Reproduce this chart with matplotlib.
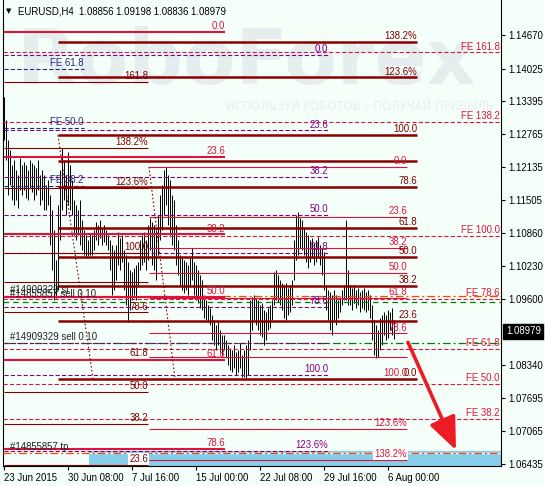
import matplotlib
matplotlib.use('Agg')
import matplotlib.pyplot as plt
from matplotlib.patches import Rectangle, FancyArrowPatch
from matplotlib.transforms import blended_transform_factory

plt.rcParams['font.family'] = ['Liberation Sans', 'DejaVu Sans']
plt.rcParams['lines.scale_dashes'] = False

# ---------------- data ----------------
symbol_title = "EURUSD,H4  1.08856 1.09198 1.08836 1.08979"

highs = [1.1348, 1.1304, 1.1265, 1.1246, 1.1218, 1.1227, 1.1208, 1.1198, 1.1231, 1.1218,
         1.1223, 1.1218, 1.1208, 1.1227, 1.1221, 1.1218, 1.1212, 1.1227, 1.1198, 1.1208,
         1.1198, 1.1179, 1.1189, 1.1160, 1.1131, 1.1093, 1.1035, 1.1141, 1.1208, 1.1250,
         1.1227, 1.1198, 1.1242, 1.1218, 1.1189, 1.1150, 1.1141, 1.1131, 1.1150, 1.1112,
         1.1093, 1.1083, 1.1073, 1.1087, 1.1083, 1.1093, 1.1108, 1.1102, 1.1112, 1.1097,
         1.1102, 1.1093, 1.1083, 1.1073, 1.1064, 1.1054, 1.1064, 1.1089, 1.1077, 1.1083,
         1.1054, 1.1045, 1.1031, 1.1016, 1.1012, 1.1020, 1.1025, 1.1031, 1.1073, 1.1083,
         1.1089, 1.1073, 1.1102, 1.1116, 1.1108, 1.1102, 1.1093, 1.1122, 1.1160, 1.1179,
         1.1208, 1.1214, 1.1198, 1.1189, 1.1160, 1.1150, 1.1102, 1.1073, 1.1045, 1.1039,
         1.1035, 1.1031, 1.1025, 1.1039, 1.1058, 1.1031, 1.1025, 1.1016, 1.1006, 1.0997,
         1.0968, 1.0958, 1.0949, 1.0943, 1.0929, 1.0920, 1.0910, 1.0916, 1.0901, 1.0891,
         1.0891, 1.0881, 1.0872, 1.0866, 1.0862, 1.0872, 1.0858, 1.0862, 1.0876, 1.0853,
         1.0862, 1.0872, 1.0881, 1.0958, 1.0964, 1.0968, 1.0962, 1.0958, 1.0949, 1.0952,
         1.0939, 1.0935, 1.0943, 1.0949, 1.0958, 1.1012, 1.1016, 1.1006, 1.0997, 1.0991,
         1.0987, 1.0991, 1.0981, 1.0987, 1.0997, 1.1073, 1.1122, 1.1127, 1.1116, 1.1112,
         1.1097, 1.1089, 1.1083, 1.1073, 1.1077, 1.1068, 1.1073, 1.1079, 1.1064, 1.1058,
         1.1050, 1.0987, 1.0977, 1.0973, 1.0968, 1.0977, 1.0968, 1.0958, 1.0964, 1.0977,
         1.0987, 1.1112, 1.1016, 1.0987, 1.0981, 1.0987, 1.0977, 1.0981, 1.0973, 1.0977,
         1.0981, 1.0973, 1.0977, 1.0968, 1.0949, 1.0920, 1.0910, 1.0901, 1.0923, 1.0929,
         1.0935, 1.0929, 1.0939, 1.0935, 1.0943, 1.09198]

lows = [1.1265, 1.1227, 1.1160, 1.1179, 1.1150, 1.1141, 1.1150, 1.1135, 1.1169, 1.1160,
        1.1169, 1.1154, 1.1150, 1.1173, 1.1166, 1.1150, 1.1160, 1.1169, 1.1141, 1.1150,
        1.1131, 1.1131, 1.1141, 1.1064, 1.1016, 1.0958, 1.0962, 1.0977, 1.1073, 1.1131,
        1.1150, 1.1122, 1.1141, 1.1131, 1.1122, 1.1083, 1.1073, 1.1083, 1.1064, 1.1054,
        1.1045, 1.1039, 1.1043, 1.1045, 1.1045, 1.1054, 1.1073, 1.1064, 1.1077, 1.1064,
        1.1070, 1.1064, 1.1054, 1.1016, 1.0968, 1.0977, 1.0997, 1.1025, 1.1016, 1.1031,
        1.0977, 1.0949, 1.0916, 1.0939, 1.0958, 1.0968, 1.0958, 1.0987, 1.1016, 1.1025,
        1.1031, 1.1016, 1.1035, 1.1054, 1.1025, 1.1016, 1.0997, 1.1045, 1.1073, 1.1093,
        1.1122, 1.1141, 1.1102, 1.1083, 1.1064, 1.1054, 1.1025, 1.1006, 1.0987, 1.0977,
        1.0972, 1.0977, 1.0968, 1.0987, 1.0997, 1.0968, 1.0958, 1.0952, 1.0943, 1.0939,
        1.0923, 1.0920, 1.0916, 1.0910, 1.0881, 1.0872, 1.0862, 1.0872, 1.0858, 1.0853,
        1.0862, 1.0847, 1.0833, 1.0824, 1.0820, 1.0828, 1.0814, 1.0820, 1.0828, 1.0810,
        1.0810, 1.0808, 1.0814, 1.0862, 1.0901, 1.0920, 1.0910, 1.0901, 1.0891, 1.0887,
        1.0872, 1.0881, 1.0901, 1.0904, 1.0920, 1.0949, 1.0958, 1.0954, 1.0949, 1.0939,
        1.0923, 1.0920, 1.0929, 1.0935, 1.0949, 1.0997, 1.1035, 1.1045, 1.1058, 1.1054,
        1.1045, 1.1031, 1.1019, 1.1031, 1.1039, 1.1025, 1.1031, 1.1039, 1.1025, 1.1006,
        1.0977, 1.0939, 1.0920, 1.0901, 1.0891, 1.0920, 1.0910, 1.0923, 1.0935, 1.0949,
        1.0958, 1.0958, 1.0949, 1.0949, 1.0939, 1.0952, 1.0943, 1.0949, 1.0935, 1.0943,
        1.0939, 1.0935, 1.0939, 1.0923, 1.0881, 1.0853, 1.0847, 1.0849, 1.0862, 1.0872,
        1.0891, 1.0881, 1.0885, 1.0901, 1.0891, 1.08836]

last_price = 1.08979

date_tick_bars = [0, 32, 64, 96, 128, 160, 192]
date_tick_labels = ["23 Jun 2015", "30 Jun 08:00", "7 Jul 16:00", "15 Jul 00:00",
                    "22 Jul 08:00", "29 Jul 16:00", "6 Aug 00:00"]
price_ticks = [1.14670, 1.14025, 1.13395, 1.12765, 1.12135, 1.11505, 1.10860,
               1.10230, 1.09600, 1.08340, 1.07695, 1.07065, 1.06435]

# Fibonacci objects: bar span, price at 0 %, price at 100 %, levels, labels
fib_levels = [0.0, 23.6, 38.2, 50.0, 61.8, 78.6, 89.5, 100.0, 123.6, 138.2]
fib_labels = ["0.0", "23.6", "38.2", "50.0", "61.8", "78.6", "", "100.0", "123.6%", "138.2%"]

fibA_span = (27.0, 206.5); fibA_p0 = 1.0807; fibA_p100 = 1.1275
fibB_span = (72.5, 201.5); fibB_p0 = 1.1214; fibB_p100 = 1.0807
fibA_trend = [(27.0, 1.1275), (44.5, 1.0807)]
fibB_trend = [(72.5, 1.1214), (85.5, 1.0807)]

fibC_span = (0.0, 72.0); fibC_p0 = 1.0517; fibC_p100 = 1.1048
fibC_levels = [23.6, 38.2, 50.0, 61.8, 78.6, 89.5, 100.0, 123.6, 138.2, 161.8]
fibC_labels = ["23.6", "38.2", "50.0", "61.8", "78.6", "", "100.0", "123.6%", "138.2%", "161.8"]

fibD_span = (0.0, 110.5); fibD_p0 = 1.1473; fibD_p100 = 1.0455
fibD_levels = [0.0, 23.6, 38.2, 50.0, 61.8, 78.6]
fibD_labels = ["0.0", "23.6", "38.2", "50.0", "61.8", "78.6"]

fibP_span = (0.0, 162.0); fibP_p0 = 1.1429; fibP_p100 = 1.0814
fibP_levels = [0.0, 23.6, 38.2, 50.0, 61.8, 78.6, 90.0, 100.0, 123.6]
fibP_labels = ["0.0", "23.6", "38.2", "50.0", "61.8", "78.6", "", "100.0", "123.6%"]

fe_levels = [38.2, 50.0, 61.8, 78.6, 100.0, 138.2, 161.8]
fe_p0 = 1.0513; fe_p100 = 1.1082

feN_span = (0.0, 40.0); feN_p0 = 1.0813; feN_p100 = 1.1765
feN_levels = [38.2, 50.0, 61.8]

sl_price = 1.0966
open2_price = 1.0954
sell_price = 1.0876
tp_price = 1.0664
zone_top = 1.0668
zone_bottom = 1.0600
zone_start = 42.5

arrow_start = (202.0, 1.0877)
arrow_end = (226.0, 1.0670)

# ---------------- figure ----------------
W, H = 545, 486
BG = '#f5fffa'
fig = plt.figure(figsize=(W / 100, H / 100), dpi=100, facecolor=BG)
ax = fig.add_axes([3 / W, 1 - 466 / H, 498 / W, 466 / H])
ax.set_facecolor(BG)
ax.set_xlim(-0.5, 248.5)
ax.set_ylim(1.06395, 1.15342)

MAROON = '#800000'
DARKRED = '#8b0000'
CRIMSON = '#dc143c'
PURPLE = '#800080'
NAVY = '#262680'
DASH = (0, (3.0, 1.6))
DASHDOT = (0, (5.5, 2.2, 1.4, 2.2))
DOT = (0, (1.2, 1.6))
FS = 6.9

# watermark (behind everything in the chart)
ax.text(17 / W, 1 - 84 / H, "RoboForex", fontsize=55, fontweight='bold',
        color='#e5edee', family='DejaVu Sans', ha='left', va='baseline',
        transform=fig.transFigure, zorder=0.1, clip_on=False)
ax.text(494 / W, 1 - 107 / H, "ИСПОЛЬЗУЙ РОБОТОВ – ПОЛУЧАЙ ПРИБЫЛЬ", fontsize=8.3,
        color='#e6eeef', family='DejaVu Sans', ha='right', va='center',
        transform=fig.transFigure, zorder=0.1, clip_on=False)

# zone rectangle (background object)
ax.add_patch(Rectangle((zone_start, zone_bottom), 400, zone_top - zone_bottom,
                       facecolor='#87ceeb', edgecolor='none', zorder=1))

# price bars
xs = list(range(len(highs)))
ax.vlines(xs, lows, highs, color='black', lw=0.7, zorder=2)


def lab(x, y, text, color, bg=None):
    kw = {}
    if bg:
        kw['bbox'] = dict(boxstyle='square,pad=0.1', fc=bg, ec='none')
    ax.annotate(text, xy=(x, y), xytext=(0, 0.6), textcoords='offset points',
                ha='right', va='bottom', fontsize=FS, color=color, zorder=6, **kw)


def fib(span, p0, p100, levels, labels, color, lw, ls, lcolor):
    for lv, lb in zip(levels, labels):
        p = p0 + (p100 - p0) * lv / 100.0
        ax.plot(span, [p, p], color=color, lw=lw, ls=ls, zorder=3, solid_capstyle='butt')
        if lb:
            bg = 'white' if zone_bottom < p < zone_top + 0.0004 else None
            lab(span[1], p, lb, lcolor, bg)


# order lines (full width)
full = (-0.5, 248.5)
ax.plot(full, [open2_price] * 2, color='#008000', lw=0.9, ls=(0, (4, 3)), zorder=3)
ax.plot(full, [sell_price] * 2, color='#008000', lw=0.9, ls=DASHDOT, zorder=3)
ax.plot(full, [sl_price] * 2, color='#ff4500', lw=0.9, ls=DASHDOT, zorder=3)
ax.plot((zone_start, 248.5), [tp_price] * 2, color='white', lw=0.9, zorder=2.5)
ax.plot(full, [tp_price] * 2, color='#ff4500', lw=0.9, ls=DASHDOT, zorder=3)

# crimson FE (full width)
for lv in fe_levels:
    p = fe_p0 + (fe_p100 - fe_p0) * lv / 100.0
    ax.plot(full, [p, p], color=CRIMSON, lw=0.8, ls=DASH, zorder=3)
    lab(248.0, p, "FE %.1f" % lv, CRIMSON)

# navy FE
for lv in feN_levels:
    p = feN_p0 + (feN_p100 - feN_p0) * lv / 100.0
    ax.plot(feN_span, [p, p], color=NAVY, lw=0.8, ls=DASH, zorder=3)
    lab(feN_span[1], p, "FE %.1f" % lv, NAVY)

fib(fibP_span, fibP_p0, fibP_p100, fibP_levels, fibP_labels, PURPLE, 0.8, DASH, PURPLE)
fib(fibC_span, fibC_p0, fibC_p100, fibC_levels, fibC_labels, MAROON, 0.8, '-', MAROON)
fib(fibD_span, fibD_p0, fibD_p100, fibD_levels, fibD_labels, CRIMSON, 1.5, '-', CRIMSON)
fib(fibB_span, fibB_p0, fibB_p100, fib_levels, fib_labels, CRIMSON, 0.8, '-', CRIMSON)
fib(fibA_span, fibA_p0, fibA_p100, fib_levels, fib_labels, DARKRED, 1.8, '-', MAROON)

for tr in (fibA_trend, fibB_trend):
    ax.plot([tr[0][0], tr[1][0]], [tr[0][1], tr[1][1]], color=DARKRED, lw=0.8,
            ls=DOT, zorder=3)

# order labels
ax.annotate("#14855857 sell 0.10", xy=(3, open2_price), xytext=(0, 2.5),
            textcoords='offset points', ha='left', va='bottom', fontsize=FS, color='#222222', zorder=6)
ax.annotate("#14909329 sl", xy=(3, sl_price), xytext=(0, 0.6),
            textcoords='offset points', ha='left', va='bottom', fontsize=FS, color='#222222', zorder=6)
ax.annotate("#14909329 sell 0.10", xy=(3, sell_price), xytext=(0, 0.6),
            textcoords='offset points', ha='left', va='bottom', fontsize=FS, color='#222222', zorder=6)
ax.annotate("#14855857 tp", xy=(3, tp_price), xytext=(0, 0.6),
            textcoords='offset points', ha='left', va='bottom', fontsize=FS, color='#222222', zorder=6)

# red arrow
arr = FancyArrowPatch(arrow_start, arrow_end, arrowstyle='-|>,head_length=1.0,head_width=0.42',
                      mutation_scale=20, color='#ec1c24', lw=2.6, zorder=7,
                      shrinkA=0, shrinkB=0)
ax.add_patch(arr)

# axes styling
ax.spines['top'].set_visible(False)
for s in ('left', 'right', 'bottom'):
    ax.spines[s].set_color('black')
    ax.spines[s].set_linewidth(0.8)
ax.yaxis.tick_right()
ax.set_yticks(price_ticks)
ax.set_yticklabels(["%.5f" % v for v in price_ticks])
ax.set_xticks(date_tick_bars)
ax.set_xticklabels(date_tick_labels)
for t in ax.get_xticklabels():
    t.set_ha('left')
ax.tick_params(axis='both', labelsize=FS, length=3, width=0.8, pad=2, colors='black')

# current price label
tr = blended_transform_factory(ax.transAxes, ax.transData)
ax.annotate("1.08979", xy=(1.0, last_price), xycoords=tr, xytext=(3.5, 0),
            textcoords='offset points', ha='left', va='center', fontsize=FS,
            color='white', annotation_clip=False, zorder=8,
            bbox=dict(boxstyle='square,pad=0.25', fc='black', ec='black'))

# title
fig.text(6 / W, 1 - 11 / H, "▼", fontsize=5, family='DejaVu Sans', ha='left', va='center')
fig.text(18 / W, 1 - 11 / H, symbol_title, fontsize=FS, ha='left', va='center', color='black')

fig.savefig('out.png', dpi=100, facecolor=BG)
